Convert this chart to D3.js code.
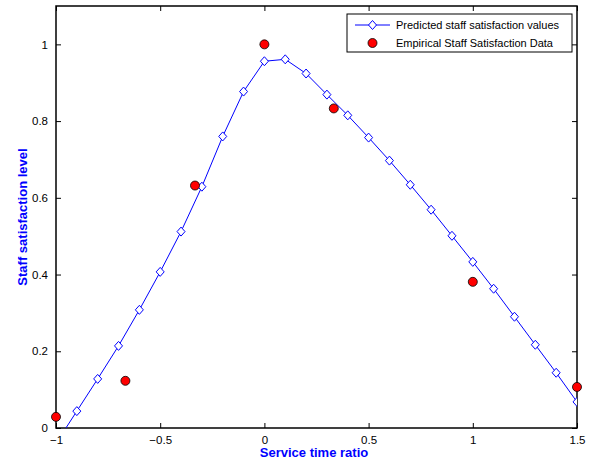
<!DOCTYPE html>
<html>
<head>
<meta charset="utf-8">
<script src="https://cdn.jsdelivr.net/npm/d3@7"></script>
<style>
  body { margin: 0; background: #fff; }
  svg { font-family: "Liberation Sans", Arial, sans-serif; }
</style>
</head>
<body>
<svg id="chart" width="593" height="464"></svg>
<script>
// predicted curve (step 0.1)
const predX = d3.range(26).map(i => -1 + i * 0.1);
const predY = [-0.04, 0.044, 0.128, 0.214, 0.308, 0.407, 0.512, 0.629, 0.760, 0.877,
               0.956, 0.961, 0.924, 0.869, 0.815, 0.757, 0.697, 0.634, 0.569, 0.501,
               0.433, 0.363, 0.290, 0.217, 0.144, 0.068];
// empirical data
const empX = [-1, -0.667, -0.333, 0, 0.333, 1, 1.5];
const empY = [0.029, 0.123, 0.632, 1.0, 0.833, 0.381, 0.107];

const xTicks = [-1, -0.5, 0, 0.5, 1, 1.5];
const yTicks = [0, 0.2, 0.4, 0.6, 0.8, 1];

const svg = d3.select("#chart");
const margin = {top: 6, right: 16, bottom: 36, left: 56};
const width = 593 - margin.left - margin.right;
const height = 464 - margin.top - margin.bottom;
const g = svg.append("g").attr("transform", "translate(" + margin.left + "," + margin.top + ")");

const x = d3.scaleLinear().domain([-1, 1.5]).range([0, width]);
const y = d3.scaleLinear().domain([0, 1.1]).range([height, 0]);

svg.append("defs").append("clipPath").attr("id", "clip")
  .append("rect").attr("width", width).attr("height", height);

// axes with inward ticks
function styleAxis(sel) {
  sel.select(".domain").remove();
  sel.selectAll("line").attr("stroke", "#000");
  sel.selectAll("text").attr("fill", "#000").style("font-size", "11.5px");
}
g.append("g").attr("transform", "translate(0," + height + ")")
  .call(d3.axisBottom(x).tickValues(xTicks).tickSizeInner(-5).tickSizeOuter(0).tickPadding(8).tickFormat(d3.format("")))
  .call(styleAxis);
g.append("g")
  .call(d3.axisTop(x).tickValues(xTicks).tickSizeInner(-5).tickSizeOuter(0).tickFormat(""))
  .call(styleAxis);
g.append("g")
  .call(d3.axisLeft(y).tickValues(yTicks).tickSizeInner(-5).tickSizeOuter(0).tickPadding(8).tickFormat(d3.format("")))
  .call(styleAxis);
g.append("g").attr("transform", "translate(" + width + ",0)")
  .call(d3.axisRight(y).tickValues(yTicks).tickSizeInner(-5).tickSizeOuter(0).tickFormat(""))
  .call(styleAxis);

g.append("rect").attr("width", width).attr("height", height)
  .attr("fill", "none").attr("stroke", "#000").attr("stroke-width", 1.5);

const plot = g.append("g").attr("clip-path", "url(#clip)");
const pred = predX.map((v, i) => [v, predY[i]]);

plot.append("path").datum(pred)
  .attr("fill", "none").attr("stroke", "#0000ff").attr("stroke-width", 1)
  .attr("d", d3.line().x(d => x(d[0])).y(d => y(d[1])));

const diamond = "M0,-4.5L4,0L0,4.5L-4,0Z";
plot.selectAll(".dia").data(pred).enter().append("path")
  .attr("class", "dia")
  .attr("transform", d => "translate(" + x(d[0]) + "," + y(d[1]) + ")")
  .attr("d", diamond)
  .attr("fill", "#fff").attr("stroke", "#0000ff").attr("stroke-width", 1);

g.selectAll(".emp").data(empX.map((v, i) => [v, empY[i]])).enter().append("circle")
  .attr("class", "emp")
  .attr("cx", d => x(d[0])).attr("cy", d => y(d[1])).attr("r", 4.5)
  .attr("fill", "#ff0000").attr("stroke", "#000").attr("stroke-width", 0.8);

// axis labels
svg.append("text").attr("x", 314).attr("y", 457)
  .attr("text-anchor", "middle").attr("fill", "#0000ff").style("font-weight", "bold").style("font-size", "13px")
  .text("Service time ratio");
svg.append("text").attr("transform", "translate(27," + (margin.top + height / 2) + ") rotate(-90)")
  .attr("text-anchor", "middle").attr("fill", "#0000ff").style("font-weight", "bold").style("font-size", "13px")
  .text("Staff satisfaction level");

// legend
const lg = svg.append("g").attr("transform", "translate(347,14)");
lg.append("rect").attr("width", 225).attr("height", 38)
  .attr("fill", "#fff").attr("stroke", "#000").attr("stroke-width", 1);
lg.append("line").attr("x1", 8).attr("x2", 43).attr("y1", 11).attr("y2", 11)
  .attr("stroke", "#0000ff");
lg.append("path").attr("transform", "translate(25.5,11)").attr("d", diamond)
  .attr("fill", "#fff").attr("stroke", "#0000ff");
lg.append("circle").attr("cx", 25.5).attr("cy", 29).attr("r", 4.5)
  .attr("fill", "#ff0000").attr("stroke", "#000").attr("stroke-width", 0.8);
lg.append("text").attr("x", 49).attr("y", 15).style("font-size", "11px").text("Predicted staff satisfaction values");
lg.append("text").attr("x", 49).attr("y", 33).style("font-size", "11px").text("Empirical Staff Satisfaction Data");
</script>
</body>
</html>
